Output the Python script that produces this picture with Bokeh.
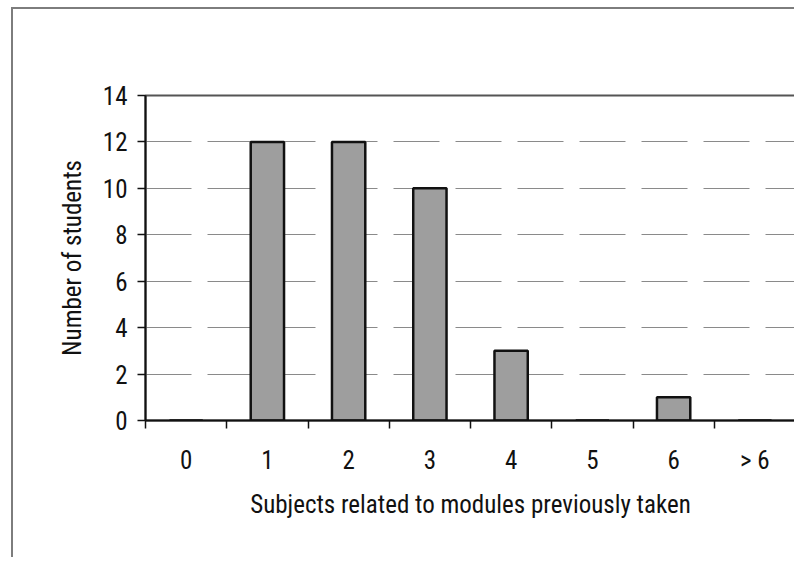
from bokeh.plotting import figure
from bokeh.models import Range1d, FixedTicker, ColumnDataSource
from bokeh.embed import file_html
from bokeh.resources import INLINE

categories = ["0", "1", "2", "3", "4", "5", "6", "> 6"]
counts = [0, 12, 12, 10, 3, 0, 1, 0]
y_ticks = [0, 2, 4, 6, 8, 10, 12, 14]

x_centers = [i + 0.5 for i in range(len(categories))]
x_bounds = list(range(len(categories) + 1))

src = ColumnDataSource(dict(x=x_centers, top=counts, cat=categories))

p = figure(width=783, height=550, output_backend="svg", toolbar_location=None,
           x_range=Range1d(0, len(categories)), y_range=Range1d(0, 14),
           min_border_left=132, min_border_right=1, min_border_top=86, min_border_bottom=139)
# outer chart frame (left and top edges, the rest lies outside the picture)
p.styles = {"border-left": "2px solid #7d7d7d", "border-top": "2px solid #7d7d7d",
            "margin-left": "11px", "margin-top": "7px"}

p.background_fill_color = "white"
p.border_fill_color = "white"
p.outline_line_color = "#555555"
p.outline_line_width = 2

p.vbar(x="x", top="top", width=0.41, bottom=0, source=src,
       fill_color="#9e9e9e", line_color="#111111", line_width=2.5)

FONT = "Roboto Condensed, DejaVu Sans Condensed, Liberation Sans"
SIZE = "25px"

xa = p.xaxis[0]
xa.ticker = FixedTicker(ticks=x_centers, minor_ticks=x_bounds)
xa.major_label_overrides = {c: lab for c, lab in zip(x_centers, categories)}
xa.major_tick_in = 0
xa.major_tick_out = 0
xa.minor_tick_in = 0
xa.minor_tick_out = 8
xa.minor_tick_line_color = "#111111"
xa.minor_tick_line_width = 1.5
xa.axis_line_color = "#111111"
xa.axis_line_width = 2
xa.major_label_standoff = 17
xa.major_label_text_font = FONT
xa.major_label_text_font_size = SIZE
xa.major_label_text_color = "#111111"
xa.axis_label = "Subjects related to modules previously taken"
xa.axis_label_text_font = FONT
xa.axis_label_text_font_size = SIZE
xa.axis_label_text_font_style = "normal"
xa.axis_label_text_color = "#111111"
xa.axis_label_standoff = 12

ya = p.yaxis[0]
ya.ticker = FixedTicker(ticks=y_ticks)
ya.major_tick_in = 0
ya.major_tick_out = 8
ya.major_tick_line_color = "#111111"
ya.major_tick_line_width = 1.5
ya.minor_tick_line_color = None
ya.axis_line_color = "#111111"
ya.axis_line_width = 2
ya.major_label_standoff = 10
ya.major_label_text_font = FONT
ya.major_label_text_font_size = SIZE
ya.major_label_text_color = "#111111"
ya.axis_label = "Number of students"
ya.axis_label_text_font = FONT
ya.axis_label_text_font_size = SIZE
ya.axis_label_text_font_style = "normal"
ya.axis_label_text_color = "#111111"
ya.axis_label_standoff = 13

p.xgrid.grid_line_color = None
p.ygrid.ticker = FixedTicker(ticks=y_ticks)
p.ygrid.grid_line_color = "#8a8a8a"
p.ygrid.grid_line_width = 1
p.ygrid.grid_line_dash = "46 16"

open("out.html", "w").write(file_html(p, INLINE))
